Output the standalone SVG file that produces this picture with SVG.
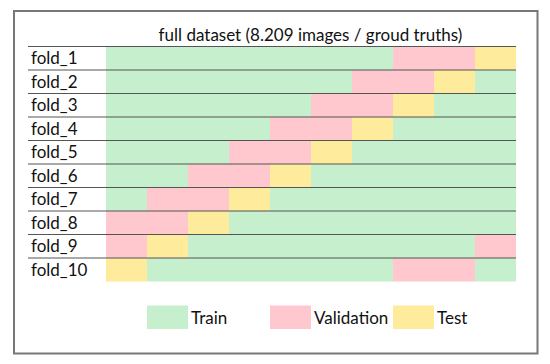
<svg xmlns="http://www.w3.org/2000/svg" width="550" height="364" viewBox="0 0 550 364">
<style>
.g{fill:#C6EFCE}.p{fill:#FFC7CE}.y{fill:#FFEB9C}
text{font-family:Lato,"Open Sans",sans-serif;font-size:17px;fill:#111}
.ln{stroke:#555;stroke-width:1.2}
</style>
<rect x="0" y="0" width="550" height="364" fill="#fff"/>
<rect x="14" y="11" width="523.5" height="342.5" fill="#fff" stroke="#777" stroke-width="2"/>
<text id="title" x="310.5" y="41" text-anchor="middle">full dataset (8.209 images / groud truths)</text>
<g id="fold_1"><rect class="g" x="106" y="46.5" width="287" height="23.5"/><rect class="p" x="393" y="46.5" width="82" height="23.5"/><rect class="y" x="475" y="46.5" width="41" height="23.5"/><text x="31" y="64">fold_1</text></g>
<g id="fold_2"><rect class="g" x="106" y="70" width="246" height="23.5"/><rect class="p" x="352" y="70" width="82" height="23.5"/><rect class="y" x="434" y="70" width="41" height="23.5"/><rect class="g" x="475" y="70" width="41" height="23.5"/><text x="31" y="87.5">fold_2</text></g>
<g id="fold_3"><rect class="g" x="106" y="93.5" width="205" height="23.5"/><rect class="p" x="311" y="93.5" width="82" height="23.5"/><rect class="y" x="393" y="93.5" width="41" height="23.5"/><rect class="g" x="434" y="93.5" width="82" height="23.5"/><text x="31" y="111">fold_3</text></g>
<g id="fold_4"><rect class="g" x="106" y="117" width="164" height="23.5"/><rect class="p" x="270" y="117" width="82" height="23.5"/><rect class="y" x="352" y="117" width="41" height="23.5"/><rect class="g" x="393" y="117" width="123" height="23.5"/><text x="31" y="134.5">fold_4</text></g>
<g id="fold_5"><rect class="g" x="106" y="140.5" width="123" height="23.5"/><rect class="p" x="229" y="140.5" width="82" height="23.5"/><rect class="y" x="311" y="140.5" width="41" height="23.5"/><rect class="g" x="352" y="140.5" width="164" height="23.5"/><text x="31" y="158">fold_5</text></g>
<g id="fold_6"><rect class="g" x="106" y="164" width="82" height="23.5"/><rect class="p" x="188" y="164" width="82" height="23.5"/><rect class="y" x="270" y="164" width="41" height="23.5"/><rect class="g" x="311" y="164" width="205" height="23.5"/><text x="31" y="181.5">fold_6</text></g>
<g id="fold_7"><rect class="g" x="106" y="187.5" width="41" height="23.5"/><rect class="p" x="147" y="187.5" width="82" height="23.5"/><rect class="y" x="229" y="187.5" width="41" height="23.5"/><rect class="g" x="270" y="187.5" width="246" height="23.5"/><text x="31" y="205">fold_7</text></g>
<g id="fold_8"><rect class="p" x="106" y="211" width="82" height="23.5"/><rect class="y" x="188" y="211" width="41" height="23.5"/><rect class="g" x="229" y="211" width="287" height="23.5"/><text x="31" y="228.5">fold_8</text></g>
<g id="fold_9"><rect class="p" x="106" y="234.5" width="41" height="23.5"/><rect class="y" x="147" y="234.5" width="41" height="23.5"/><rect class="g" x="188" y="234.5" width="287" height="23.5"/><rect class="p" x="475" y="234.5" width="41" height="23.5"/><text x="31" y="252">fold_9</text></g>
<g id="fold_10"><rect class="y" x="106" y="258" width="41" height="23.5"/><rect class="g" x="147" y="258" width="246" height="23.5"/><rect class="p" x="393" y="258" width="82" height="23.5"/><rect class="g" x="475" y="258" width="41" height="23.5"/><text x="31" y="275.5">fold_10</text></g>
<g id="connectors" class="ln">
<line x1="28" y1="46.5" x2="516" y2="46.5"/>
<line x1="28" y1="70" x2="516" y2="70"/>
<line x1="28" y1="93.5" x2="516" y2="93.5"/>
<line x1="28" y1="117" x2="516" y2="117"/>
<line x1="28" y1="140.5" x2="516" y2="140.5"/>
<line x1="28" y1="164" x2="516" y2="164"/>
<line x1="28" y1="187.5" x2="516" y2="187.5"/>
<line x1="28" y1="211" x2="516" y2="211"/>
<line x1="28" y1="234.5" x2="516" y2="234.5"/>
<line x1="28" y1="258" x2="516" y2="258"/>
</g>
<g id="legend_train"><rect class="g" x="147" y="305.5" width="41" height="23.5"/><text x="191" y="323.5">Train</text></g>
<g id="legend_validation"><rect class="p" x="270" y="305.5" width="41" height="23.5"/><text x="314" y="323.5">Validation</text></g>
<g id="legend_test"><rect class="y" x="393" y="305.5" width="41" height="23.5"/><text x="437" y="323.5">Test</text></g>
</svg>
